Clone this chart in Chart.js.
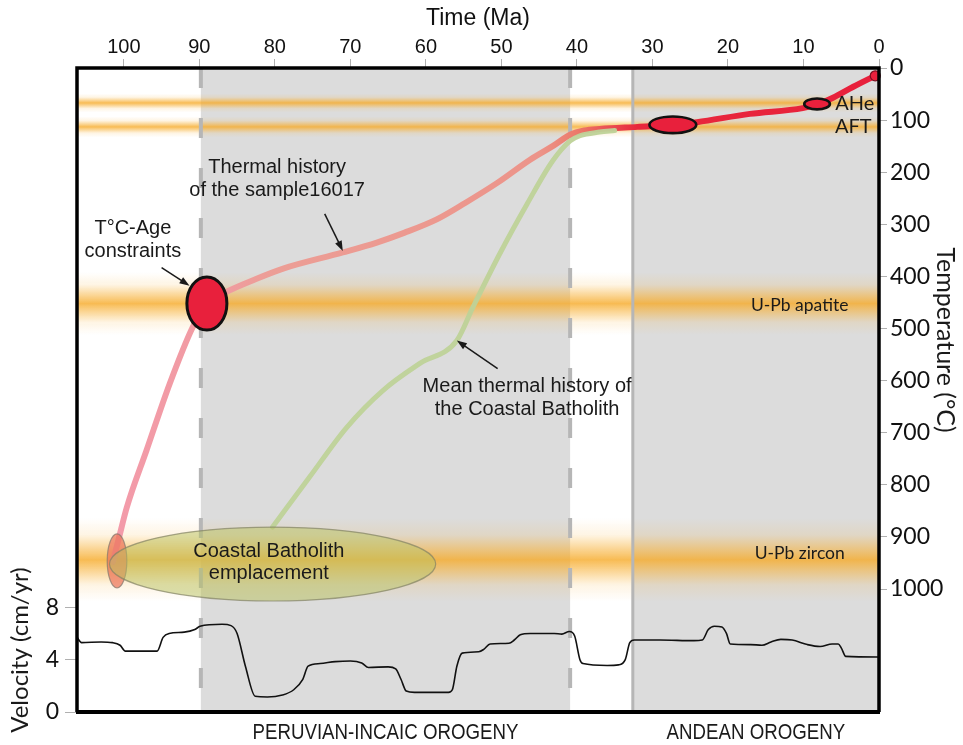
<!DOCTYPE html>
<html><head><meta charset="utf-8">
<script src="https://cdn.jsdelivr.net/npm/chart.js@4.4.1/dist/chart.umd.min.js"></script>
<style>html,body{margin:0;padding:0;background:#fff;}#wrap{width:963px;height:745px;position:relative;}</style>
</head><body><div id="wrap"><canvas id="c" width="963" height="745"></canvas></div>
<script>
// ---------- DATA ----------
const timeTicks = [100, 90, 80, 70, 60, 50, 40, 30, 20, 10, 0];
const tempTicks = [0, 100, 200, 300, 400, 500, 600, 700, 800, 900, 1000];
const velocityTicks = [0, 4, 8];

// Thermal history of sample 16017 (Ma, °C)
const sampleAge  = [101.45, 100.7, 99.6, 97.0, 93.9, 90.9, 89.0, 86.6, 82.5, 78.9, 71.0, 66.5, 62.8, 58.5, 54.8, 50.5, 46.2, 43.0, 40.9, 39.0, 37.0, 32.0, 27.0, 24.1, 17.1, 10.1, 8.2, 6.1, 3.4, 0.5];
const sampleTemp = [948, 905, 843, 734, 605, 498, 452, 431, 405, 385, 354, 335, 316, 290, 259, 220, 176, 148, 128, 120, 117, 113, 109, 104, 88, 77, 70, 57, 36, 15];

// Mean thermal history of the Coastal Batholith (Ma, °C)
const batholithAge  = [80.3, 75.4, 70.5, 65.7, 60.8, 55.9, 53.8, 50.2, 46.6, 43.2, 40.9, 39.6, 37.0, 35.0];
const batholithTemp = [881, 785, 690, 619, 567, 523, 460, 356, 261, 178, 140, 130, 123, 120];

// Convergence velocity (Ma, cm/yr)
const velocityAge = [106.2, 105.6, 103.0, 101.5, 100.5, 99.8, 95.6, 94.8, 94.0, 92.0, 90.6, 89.9, 87.0, 85.8, 85.0, 83.9, 82.6, 81.0, 79.0, 77.5, 76.3, 75.6, 74.0, 72.0, 70.0, 68.5, 67.6, 65.0, 64.0, 63.3, 62.6, 61.5, 57.0, 56.5, 55.9, 55.2, 53.0, 52.3, 51.5, 49.0, 48.3, 47.5, 46.2, 43.0, 42.0, 41.0, 40.3, 39.6, 39.2, 36.0, 34.5, 33.6, 33.0, 32.4, 29.0, 24.5, 23.4, 22.6, 21.8, 20.8, 20.2, 19.7, 17.0, 15.5, 14.3, 13.0, 11.5, 9.5, 7.8, 6.2, 5.4, 5.0, 4.4, 0.0];
const velocityValue = [5.7, 5.3, 5.35, 5.3, 5.1, 4.65, 4.65, 5.7, 6.0, 6.1, 6.3, 6.55, 6.7, 6.6, 6.0, 3.5, 1.2, 1.15, 1.3, 1.7, 2.5, 3.5, 3.7, 3.85, 3.9, 3.75, 3.4, 3.45, 3.3, 2.5, 1.6, 1.5, 1.5, 1.7, 3.5, 4.5, 4.6, 4.8, 5.2, 5.25, 5.5, 5.9, 6.0, 6.0, 5.95, 6.15, 5.8, 4.0, 3.7, 3.55, 3.6, 4.0, 5.3, 5.5, 5.5, 5.45, 5.5, 6.3, 6.55, 6.5, 6.0, 5.2, 5.15, 5.1, 5.35, 5.55, 5.5, 5.15, 5.0, 5.2, 5.2, 4.9, 4.25, 4.2];

// Thermochronometer closure-temperature bands (°C)
const bandLabels = ['AHe', 'AFT', 'U-Pb apatite', 'U-Pb zircon'];
const bandTemp = [67, 113, 452, 944];
const bandHalfWidth = [18, 20, 60, 80];

// Orogenic phases (Ma)
const orogenyNames = ['PERUVIAN-INCAIC OROGENY', 'ANDEAN OROGENY'];
const orogenyStart = [89.8, 32.6];
const orogenyEnd = [40.9, 0];

// T°C-Age constraints (ellipses): centre and half-extent
const constraintAge = [89.0, 27.3, 8.2, 0.5];
const constraintTemp = [452, 109, 69, 15];
const constraintAgeErr = [2.65, 3.1, 1.7, 0.66];
const constraintTempErr = [51, 16, 10.5, 9.6];

// Coastal Batholith emplacement and sample crystallisation
const emplacementAge = [80.3, 100.9];
const emplacementTemp = [952, 946];
const emplacementAgeErr = [21.6, 1.3];
const emplacementTempErr = [71, 52];

// ---------- CHART ----------
const zip = (xs, ys) => xs.map((x, i) => ({x: x, y: ys[i]}));
const MYRIAD = 'Lato, "Open Sans", sans-serif';
const ARIAL = '"Liberation Sans", Arial, sans-serif';

function sampleColor(c) {
  const chart = c.chart;
  const a = chart.chartArea;
  if (!a) return '#e8203c';
  const xs = chart.scales.x;
  const g = chart.ctx.createLinearGradient(a.left, 0, a.right, 0);
  const p = age => Math.min(1, Math.max(0, (xs.getPixelForValue(age) - a.left) / (a.right - a.left)));
  g.addColorStop(p(101), 'rgba(243,155,170,1)');
  g.addColorStop(p(89), 'rgba(241,155,162,1)');
  g.addColorStop(p(80), 'rgba(236,158,150,1)');
  g.addColorStop(p(45), 'rgba(236,148,138,1)');
  g.addColorStop(p(40), 'rgba(236,122,106,1)');
  g.addColorStop(p(32), 'rgba(232,40,60,1)');
  g.addColorStop(p(0), 'rgba(232,32,60,1)');
  return g;
}

const background = {
  id: 'background',
  beforeDatasetsDraw(chart) {
    const {ctx, chartArea: a} = chart;
    const xs = chart.scales.x, yT = chart.scales.yT;
    ctx.save();
    ctx.fillStyle = '#dcdcdc';
    for (let i = 0; i < orogenyNames.length; i++) {
      const x1 = xs.getPixelForValue(orogenyStart[i]);
      const x2 = xs.getPixelForValue(orogenyEnd[i]);
      ctx.fillRect(x1, a.top, x2 - x1, a.bottom - a.top);
    }
    for (let i = 0; i < bandTemp.length; i++) {
      const y1 = yT.getPixelForValue(bandTemp[i] - bandHalfWidth[i]);
      const y2 = yT.getPixelForValue(bandTemp[i] + bandHalfWidth[i]);
      const g = ctx.createLinearGradient(0, y1, 0, y2);
      g.addColorStop(0, 'rgba(248,180,60,0)');
      g.addColorStop(0.2, 'rgba(248,180,60,0.14)');
      g.addColorStop(0.38, 'rgba(247,175,50,0.55)');
      g.addColorStop(0.5, 'rgba(246,170,40,0.8)');
      g.addColorStop(0.62, 'rgba(247,175,50,0.55)');
      g.addColorStop(0.8, 'rgba(248,180,60,0.14)');
      g.addColorStop(1, 'rgba(248,180,60,0)');
      ctx.fillStyle = g;
      ctx.fillRect(a.left, y1, a.right - a.left, y2 - y1);
    }
    ctx.strokeStyle = '#b6b6b6';
    ctx.lineWidth = 4;
    ctx.setLineDash([20, 30]);
    [orogenyStart[0], orogenyEnd[0]].forEach(t => {
      const x = xs.getPixelForValue(t);
      ctx.beginPath(); ctx.moveTo(x, a.top); ctx.lineTo(x, a.bottom); ctx.stroke();
    });
    ctx.setLineDash([]);
    ctx.lineWidth = 3;
    const xa = xs.getPixelForValue(orogenyStart[1]);
    ctx.beginPath(); ctx.moveTo(xa, a.top); ctx.lineTo(xa, a.bottom); ctx.stroke();
    ctx.restore();
  }
};

function arrow(ctx, x1, y1, x2, y2) {
  const ang = Math.atan2(y2 - y1, x2 - x1);
  const L = 10, W = 3.6;
  ctx.beginPath(); ctx.moveTo(x1, y1);
  ctx.lineTo(x2 - Math.cos(ang) * L * 0.8, y2 - Math.sin(ang) * L * 0.8); ctx.stroke();
  ctx.beginPath();
  ctx.moveTo(x2, y2);
  ctx.lineTo(x2 - Math.cos(ang) * L - Math.sin(ang) * W, y2 - Math.sin(ang) * L + Math.cos(ang) * W);
  ctx.lineTo(x2 - Math.cos(ang) * L + Math.sin(ang) * W, y2 - Math.sin(ang) * L - Math.cos(ang) * W);
  ctx.closePath(); ctx.fill();
}

const foreground = {
  id: 'foreground',
  afterDatasetsDraw(chart) {
    const {ctx, chartArea: a} = chart;
    const xs = chart.scales.x, yT = chart.scales.yT;
    const px = v => xs.getPixelForValue(v), py = v => yT.getPixelForValue(v);
    const ell = (age, temp, dA, dT) => {
      ctx.beginPath();
      ctx.ellipse(px(age), py(temp), Math.abs(px(age - dA) - px(age)), Math.abs(py(temp + dT) - py(temp)), 0, 0, Math.PI * 2);
    };
    ctx.save();
    ell(emplacementAge[1], emplacementTemp[1], emplacementAgeErr[1], emplacementTempErr[1]);
    ctx.fillStyle = 'rgba(236,118,92,0.72)'; ctx.fill();
    ctx.strokeStyle = 'rgba(130,120,110,0.7)'; ctx.lineWidth = 1.2; ctx.stroke();
    ell(emplacementAge[0], emplacementTemp[0], emplacementAgeErr[0], emplacementTempErr[0]);
    ctx.fillStyle = 'rgba(184,194,96,0.5)'; ctx.fill();
    ctx.strokeStyle = 'rgba(130,130,100,0.7)'; ctx.lineWidth = 1.2; ctx.stroke();
    const lw = [3, 2.6, 2.6, 1.2];
    for (let i = 0; i < constraintAge.length; i++) {
      ell(constraintAge[i], constraintTemp[i], constraintAgeErr[i], constraintTempErr[i]);
      ctx.fillStyle = '#e8203c'; ctx.fill();
      ctx.strokeStyle = i === 3 ? '#7a1020' : '#111'; ctx.lineWidth = lw[i]; ctx.stroke();
    }
    // frame
    ctx.strokeStyle = '#000'; ctx.lineWidth = 3.5;
    ctx.beginPath();
    ctx.moveTo(a.left, a.bottom); ctx.lineTo(a.left, a.top); ctx.lineTo(a.right, a.top); ctx.lineTo(a.right, a.bottom);
    ctx.stroke();
    ctx.lineWidth = 4;
    ctx.beginPath(); ctx.moveTo(a.left - 1, a.bottom); ctx.lineTo(a.right + 1, a.bottom); ctx.stroke();

    // annotations
    ctx.fillStyle = '#1a1a1a'; ctx.strokeStyle = '#1a1a1a';
    ctx.textAlign = 'center'; ctx.textBaseline = 'middle';
    ctx.font = '20px ' + ARIAL;
    ctx.fillText('Thermal history', px(79.7), py(190));
    ctx.fillText('of the sample16017', px(79.7), py(236));
    ctx.fillText('T°C-Age', px(98.8), py(308));
    ctx.fillText('constraints', px(98.8), py(352));
    ctx.fillText('Mean thermal history of', px(46.6), py(611));
    ctx.fillText('the Coastal Batholith', px(46.6), py(655));
    ctx.fillText('Coastal Batholith', px(80.8), py(927));
    ctx.fillText('emplacement', px(80.8), py(971));
    ctx.lineWidth = 1.5;
    arrow(ctx, px(73.4), py(280), px(71.0), py(351));
    arrow(ctx, px(95.0), py(383), px(91.3), py(418));
    arrow(ctx, px(50.5), py(577), px(55.9), py(523));

    ctx.font = '17.5px ' + MYRIAD;
    ctx.fillText(bandLabels[2], px(10.5), py(456));
    ctx.fillText(bandLabels[3], px(10.5), py(931));
    ctx.font = '20px ' + MYRIAD;
    ctx.fillText(bandLabels[0], px(3.2), py(69));
    ctx.fillText(bandLabels[1], px(3.4), py(113));

    // orogeny labels (condensed lettering)
    ctx.font = '22px ' + ARIAL;
    for (let i = 0; i < orogenyNames.length; i++) {
      const cx = (px(orogenyStart[i]) + px(orogenyEnd[i])) / 2;
      ctx.save();
      ctx.translate(cx, a.bottom + 21);
      ctx.scale(0.85, 1);
      ctx.fillText(orogenyNames[i], 0, 0);
      ctx.restore();
    }

    // axis titles
    ctx.font = '25px ' + MYRIAD;
    ctx.save();
    ctx.translate(945, (a.top + a.bottom) / 2 - 50);
    ctx.rotate(Math.PI / 2);
    ctx.fillText('Temperature (°C)', 0, 0);
    ctx.restore();
    ctx.font = '24px ' + MYRIAD;
    ctx.save();
    ctx.translate(20, a.bottom - 62);
    ctx.rotate(-Math.PI / 2);
    ctx.fillText('Velocity (cm/yr)', 0, 0);
    ctx.restore();
    ctx.restore();
  }
};

const ctx = document.getElementById('c').getContext('2d');
new Chart(ctx, {
  type: 'line',
  data: {
    datasets: [
      {label: 'Velocity', data: zip(velocityAge, velocityValue), yAxisID: 'yV', borderColor: '#111', borderWidth: 1.6, pointRadius: 0, cubicInterpolationMode: 'monotone', fill: false},
      {label: 'Mean thermal history of the Coastal Batholith', data: zip(batholithAge, batholithTemp), yAxisID: 'yT', borderColor: 'rgba(190,210,152,0.95)', borderWidth: 5, pointRadius: 0, cubicInterpolationMode: 'monotone', fill: false, borderCapStyle: 'round'},
      {label: 'Thermal history of the sample16017', data: zip(sampleAge, sampleTemp), yAxisID: 'yT', borderColor: sampleColor, borderWidth: 6, pointRadius: 0, cubicInterpolationMode: 'monotone', fill: false, borderCapStyle: 'round'}
    ]
  },
  options: {
    responsive: false, animation: false, events: [],
    layout: {padding: {bottom: 33, top: 0, left: 0, right: 0}},
    plugins: {legend: {display: false}, tooltip: {enabled: false}},
    scales: {
      x: {
        type: 'linear', position: 'top', reverse: true, min: 0, max: 106.2,
        afterBuildTicks: s => { s.ticks = timeTicks.map(v => ({value: v})); },
        afterFit: s => { s.height = 68; },
        grid: {drawOnChartArea: false, drawTicks: true, tickLength: 9, color: '#b0b0b0', lineWidth: 1},
        border: {display: false},
        ticks: {font: {family: ARIAL, size: 20}, color: '#111', padding: 0, maxRotation: 0, autoSkip: false, callback: v => String(v)},
        title: {display: true, text: 'Time (Ma)', font: {family: ARIAL, size: 23}, color: '#111', padding: {top: 5, bottom: 0}}
      },
      yT: {
        type: 'linear', position: 'right', reverse: true, min: 0, max: 1236,
        afterBuildTicks: s => { s.ticks = tempTicks.map(v => ({value: v})); },
        afterFit: s => { s.width = 84; },
        grid: {drawOnChartArea: false, drawTicks: true, tickLength: 8, color: '#b0b0b0', lineWidth: 1},
        border: {display: false},
        ticks: {font: {family: MYRIAD, size: 23}, color: '#111', padding: 3, autoSkip: false, callback: v => String(v)}
      },
      yV: {
        type: 'linear', position: 'left', min: 0, max: 49.2,
        afterBuildTicks: s => { s.ticks = velocityTicks.map(v => ({value: v})); },
        afterFit: s => { s.width = 77; },
        grid: {drawOnChartArea: false, drawTicks: true, tickLength: 12, color: '#b0b0b0', lineWidth: 1},
        border: {display: false},
        ticks: {font: {family: MYRIAD, size: 23}, color: '#111', padding: 6, autoSkip: false, callback: v => String(v)}
      }
    }
  },
  plugins: [background, foreground]
});
</script></body></html>
